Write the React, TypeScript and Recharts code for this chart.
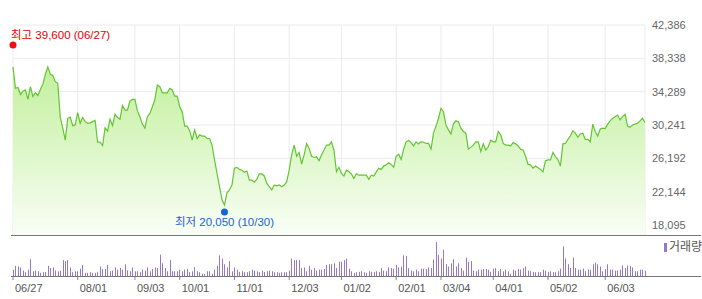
import { ComposedChart, BarChart, Area, Bar, XAxis, YAxis, CartesianGrid, ReferenceDot } from 'recharts';

// closing prices, one per trading day (06/27 .. late June)
const PRICE = [
  37300, 34700, 34800, 33950, 34350, 34500, 33350, 34900, 33700, 34150,
  33800, 34550, 35200, 36400, 37300, 36400, 36250, 35500, 35300, 31150,
  29850, 28400, 31050, 31200, 30150, 30250, 31750, 30450, 31150, 30650,
  30450, 30500, 30650, 30800, 28150, 28150, 27750, 29900, 29500, 30950,
  30150, 31550, 31150, 30950, 32600, 32050, 32050, 33150, 33350, 33350,
  31950,
  31250, 30350, 29850, 31250, 31650, 32450, 33300, 35100, 34900, 34150,
  34150, 34150, 34700, 34500, 33750, 33750, 32450, 31850, 30100, 30100,
  29550, 28400, 29650, 28600, 29050, 28900, 28900, 28600, 28600, 27800,
  26000, 24350, 22750, 21150, 20500, 22000, 22350, 22950, 25000, 25100,
  24850, 24750, 24500, 24650, 23550, 23550, 23300, 23650, 24300, 24300,
  24050, 23150, 22750, 22350, 22950, 22850, 22950, 22750, 22950, 23350,
  24750, 26600, 27800, 26450, 26900, 25500, 26600, 28000, 27400, 26450,
  26300, 26400, 25900, 26600, 27200, 27800, 27800, 28200, 27200, 24550,
  25100, 24350, 24050, 24750, 24550, 24300, 23750, 24350, 24150, 24150,
  24150, 24150, 23650, 24150, 24050, 24550, 25000, 24850, 25250,
  25400, 25650, 25450, 25100, 26450, 26700, 26050, 27300, 28200, 28350,
  28100, 27700, 28200, 27950, 28200, 28150, 28000, 28000, 27300, 29250,
  30100, 31050, 32250, 31850, 30250, 29650, 29150, 30350, 30750, 30650,
  29850, 29450, 29250, 27300, 27550, 27800, 28200, 28200, 27000, 27950,
  27200, 27600, 28400, 28200, 28200, 29450, 29050, 28000, 27800, 27800,
  27700, 28100, 27950,
  27700, 27300, 27200, 26450, 25450, 25400, 25000, 25250, 25050, 24850,
  24550, 25900, 26000, 26000, 26900, 26400, 26050, 25250, 27950, 28000,
  28500, 28900, 29550, 29250, 28750, 29150, 29250, 28500, 28500, 28200,
  30350, 29450, 28900, 29750, 29850, 29800, 30350, 30750, 31050, 31250,
  31450, 30850, 31250, 31550, 30100, 29950, 30250, 30350, 30450, 30750,
  31050, 30550,
];

// trading volume (relative units)
const VOLUME = [
  20, 32, 30, 27, 17, 12, 20, 53, 15, 17, 15, 10, 12, 13, 32, 25, 27, 17, 15, 17,
  50, 47, 50, 27, 12, 15, 15, 23, 35, 10, 10, 12, 10, 10, 12, 30, 22, 22, 35, 15,
  17, 27, 20, 25, 20, 37, 18, 15, 27, 15, 15, 12, 20, 17, 27, 15, 22, 27, 25, 67,
  40, 25, 15, 50, 15, 15, 15, 20, 15, 20, 22, 12, 15, 28, 15, 12, 7, 7, 15, 15,
  7, 20, 32, 65, 55, 37, 27, 47, 15, 27, 20, 13, 15, 12, 12, 15, 20, 17, 15, 12,
  17, 13, 15, 17, 15, 12, 12, 10, 12, 12, 12, 17, 55, 50, 50, 50, 25, 27, 15, 32,
  20, 25, 17, 20, 20, 22, 35, 37, 37, 40, 25, 45, 45, 50, 55,
  23, 15, 10, 12, 13, 15, 12, 10, 15, 13, 13, 15, 13, 25, 17, 15, 27, 25, 23, 35,
  27, 29, 65, 63, 25, 17, 15, 20, 15, 23, 23, 22, 27, 25, 52, 107, 67, 55, 83, 37,
  30, 40, 53, 30, 40, 25, 17, 58, 45, 47, 17, 15, 20, 20, 22, 22, 20, 13, 23, 25,
  15, 22, 15, 20, 15, 7, 20, 17, 22, 20, 25, 30, 17, 15, 13, 12, 12, 12, 20, 17,
  13, 15, 12, 12, 15, 23, 93, 55, 37, 25, 58, 25, 20, 20, 23, 15, 20, 20, 37, 42,
  37, 30, 15, 22, 37, 20, 20, 17, 17, 20, 33, 25, 33, 32, 27, 15, 15, 20, 20, 17,
];

const TICK_IDX = [0, 26, 49, 67, 89, 111, 132, 154, 172, 193, 215, 238];
const TICK_LABELS = ['06/27', '08/01', '09/03', '10/01', '11/01', '12/03', '01/02', '02/01', '03/04', '04/01', '05/02', '06/03'];
const Y_TICKS = [18095, 22144, 26192, 30241, 34289, 38338, 42386];
const Y_DOMAIN = [16881, 42386];

const HIGH = { idx: 0, value: 39600, date: '06/27' };
const LOW = { idx: 85, value: 20050, date: '10/30' };

const FONT = '"Liberation Sans", "Noto Sans CJK KR", sans-serif';
const LINE = '#63c531';
const VOL = '#9379cc';
const GRID = '#ebebeb';

const data = PRICE.map((p, i) => ({ i, price: p, volume: VOLUME[i] }));
const last = data.length - 1;

const fmt = (v: number) => v.toLocaleString('en-US');

function HighMark(props: any) {
  const { cx, cy } = props;
  return (
    <g>
      <circle cx={cx} cy={cy - 3} r={3.5} fill="#f01010" />
      <text x={cx - 2} y={cy - 13} fill="#e60000" fontSize={11.5} fontFamily={FONT} dominantBaseline="central">
        {`최고 ${fmt(HIGH.value)} (${HIGH.date})`}
      </text>
    </g>
  );
}

function LowMark(props: any) {
  const { cx, cy } = props;
  return (
    <g>
      <circle cx={cx} cy={cy + 3} r={3.5} fill="#1a64d6" />
      <text x={cx} y={cy + 13} fill="#1a64d6" fontSize={11.5} fontFamily={FONT} textAnchor="middle" dominantBaseline="central">
        {`최저 ${fmt(LOW.value)} (${LOW.date})`}
      </text>
    </g>
  );
}

function DateTick(props: any) {
  const { x, y, payload } = props;
  const k = TICK_IDX.indexOf(payload.value);
  return (
    <g>
      <line x1={x} x2={x} y1={y} y2={y + 4} stroke="#888" />
      <text x={x + 2} y={y + 12} fill="#555" fontSize={11} fontFamily={FONT} dominantBaseline="central">
        {TICK_LABELS[k]}
      </text>
    </g>
  );
}

function VolBar(props: any) {
  const { x, y, width, height, fill } = props;
  if (!height || height <= 0) return null;
  return <rect x={Math.round(x + width / 2 - 0.5)} y={y} width={1} height={height} fill={fill} />;
}

export default function App() {
  return (
    <div style={{ position: 'absolute', left: 0, top: 0, width: 702, height: 299, background: '#fff', fontFamily: FONT }}>
      <div style={{ position: 'absolute', left: 0, top: 0 }}>
        <ComposedChart width={702} height={236} data={data} margin={{ top: 25, right: 0, bottom: 1, left: 13 }}>
          <defs>
            <linearGradient id="priceFill" x1="0" y1="0" x2="0" y2="1">
              <stop offset="0%" stopColor="#c2f09c" />
              <stop offset="100%" stopColor="#f9fef6" />
            </linearGradient>
          </defs>
          <CartesianGrid stroke={GRID} />
          <XAxis dataKey="i" type="number" domain={[0, last]} ticks={TICK_IDX} hide />
          <YAxis
            orientation="right"
            type="number"
            domain={Y_DOMAIN}
            ticks={Y_TICKS}
            allowDataOverflow
            width={57}
            axisLine={false}
            tickLine={false}
            tickSize={5}
            tickMargin={2}
            tickFormatter={fmt}
            tick={{ fill: '#666', fontSize: 11, fontFamily: FONT, textAnchor: 'start' }}
          />
          <Area
            type="linear"
            dataKey="price"
            stroke={LINE}
            strokeWidth={1.2}
            fill="url(#priceFill)"
            fillOpacity={1}
            baseValue={Y_DOMAIN[0]}
            dot={false}
            activeDot={false}
            isAnimationActive={false}
          />
          <ReferenceDot x={HIGH.idx} y={HIGH.value} shape={HighMark} />
          <ReferenceDot x={LOW.idx} y={LOW.value} shape={LowMark} />
        </ComposedChart>
      </div>

      <div style={{ position: 'absolute', left: 11, top: 235, width: 690, height: 1, background: '#777' }} />

      <div style={{ position: 'absolute', left: 0, top: 235 }}>
        <BarChart width={702} height={64} data={data} margin={{ top: 1, right: 57, bottom: 0, left: 13 }}>
          <XAxis
            dataKey="i"
            type="number"
            domain={[0, last]}
            ticks={TICK_IDX}
            height={23}
            axisLine={false}
            tickLine={false}
            tickSize={0}
            tickMargin={0}
            interval={0}
            tick={<DateTick />}
          />
          <YAxis hide domain={[0, 126]} />
          <Bar dataKey="volume" fill={VOL} barSize={1} shape={<VolBar />} isAnimationActive={false} />
        </BarChart>
      </div>

      <div style={{ position: 'absolute', left: 11, top: 276, width: 690, height: 1, background: '#777' }} />

      <div style={{ position: 'absolute', left: 664, top: 243, width: 3, height: 9, background: VOL }} />
      <div style={{ position: 'absolute', left: 669, top: 239, fontSize: 12, color: '#555', lineHeight: '16px', whiteSpace: 'nowrap' }}>거래량</div>
    </div>
  );
}
